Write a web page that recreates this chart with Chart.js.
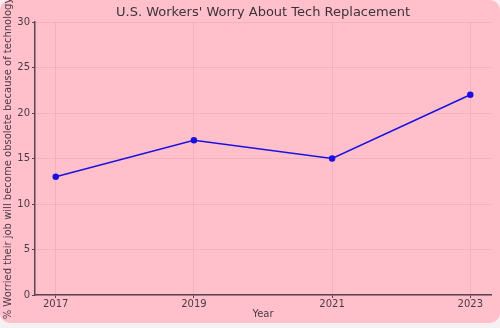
<!DOCTYPE html>
<html>
<head>
<meta charset="utf-8">
<script src="https://cdn.jsdelivr.net/npm/chart.js@4"></script>
<style>
  body { margin: 0; background: #f6f0f2; }
  #wrap { position: relative; width: 500px; height: 328px; }
  #bg { position: absolute; left: 0; top: 0; width: 500px; height: 323px; background: #ffc0cb; border-radius: 10px; }
  #myChart { position: absolute; left: 0; top: 0; }
</style>
</head>
<body>
<div id="wrap"><div id="bg"></div><canvas id="myChart" width="500" height="328"></canvas></div>
<script>
const years = [2017, 2019, 2021, 2023];
const worried = [13, 17, 15, 22];
const yTicks = [0, 5, 10, 15, 20, 25, 30];

const axisColor = '#5b4450';
const gridColor = 'rgba(170, 130, 140, 0.18)';
const textColor = '#4a3a42';

const ctx = document.getElementById('myChart').getContext('2d');

const myChart = new Chart(ctx, {
  type: 'line',
  data: {
    datasets: [{
      label: 'Worried',
      data: years.map((y, i) => ({ x: y, y: worried[i] })),
      borderColor: '#1a10e0',
      backgroundColor: '#1a10e0',
      borderWidth: 1.5,
      pointRadius: 2.5,
      pointHoverRadius: 2.5,
      fill: false,
      tension: 0
    }]
  },
  options: {
    responsive: false,
    animation: false,
    layout: { padding: { left: 0, right: 9, top: 0, bottom: 8 } },
    plugins: {
      legend: { display: false },
      tooltip: { enabled: false },
      title: {
        display: true,
        fullSize: false,
        text: "U.S. Workers' Worry About Tech Replacement",
        color: '#3d3338',
        font: { family: 'DejaVu Sans', size: 13, weight: 'normal' },
        padding: { top: 5, bottom: 1.4 }
      }
    },
    scales: {
      x: {
        type: 'linear',
        min: 2016.7,
        max: 2023.3,
        afterBuildTicks: scale => { scale.ticks = years.map(v => ({ value: v })); },
        afterFit: scale => { scale.height = 25; },
        ticks: {
          color: textColor,
          font: { family: 'DejaVu Sans', size: 10 },
          padding: 0,
          maxRotation: 0,
          callback: v => String(v)
        },
        grid: { color: gridColor, tickColor: axisColor, tickLength: 3 },
        border: { color: axisColor, width: 1.5 },
        title: {
          display: true,
          text: 'Year',
          color: textColor,
          font: { family: 'DejaVu Sans', size: 10 },
          padding: { top: 0, bottom: 0 }
        }
      },
      y: {
        min: 0,
        max: 30,
        afterBuildTicks: scale => { scale.ticks = yTicks.map(v => ({ value: v })); },
        afterFit: scale => { scale.width = 35; },
        ticks: {
          color: textColor,
          font: { family: 'DejaVu Sans', size: 10 },
          padding: 2
        },
        grid: { color: gridColor, tickColor: axisColor, tickLength: 3 },
        border: { color: axisColor, width: 1.5 },
        title: {
          display: true,
          text: '% Worried their job will become obsolete because of technology',
          color: textColor,
          font: { family: 'DejaVu Sans', size: 10 },
          padding: { top: 2, bottom: 2 }
        }
      }
    }
  }
});
</script>
</body>
</html>
